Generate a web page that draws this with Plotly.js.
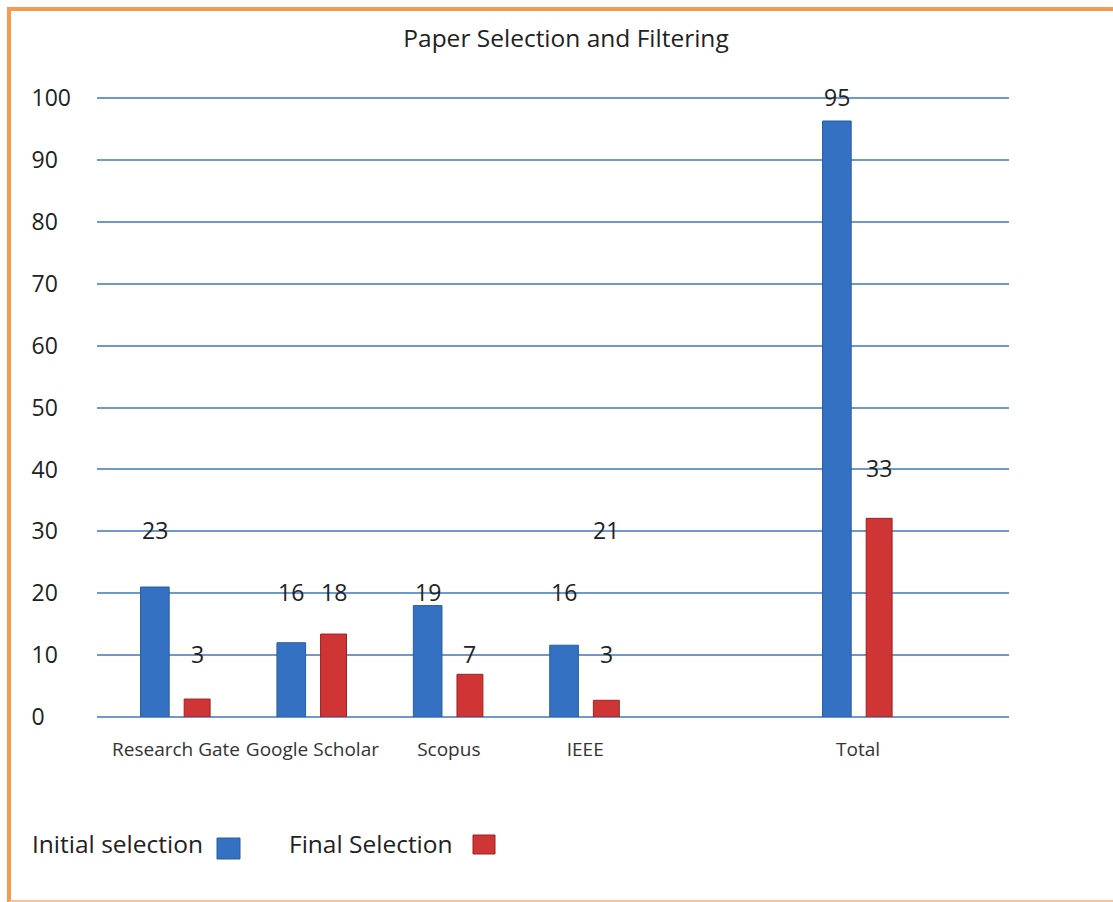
<!DOCTYPE html>
<html>
<head>
<meta charset="utf-8">
<script src="https://cdn.plot.ly/plotly-3.0.1.min.js"></script>
<style>
html,body{margin:0;padding:0;background:#ffffff;overflow:hidden;}
#wrap{position:relative;width:1113px;height:902px;overflow:hidden;}
#chart{width:1113px;height:902px;}
#frame{position:absolute;left:7px;top:7px;width:1200px;height:889px;
  border-top:4px solid #f59a4e;border-left:4px solid #f59a4e;border-bottom:3px solid #f8c39a;pointer-events:none;}
</style>
</head>
<body>
<div id="wrap">
<div id="chart"></div>
<div id="frame"></div>
</div>
<script>
// ---------- data ----------
const categories = ['Research Gate', 'Google Scholar', 'Scopus', 'IEEE', 'Total'];
const axisCategories = ['Research Gate', 'Google Scholar', 'Scopus', 'IEEE', ' ', 'Total'];
const seriesNames = ['Initial selection', 'Final Selection'];
const initialHeights = [21, 12, 18, 11.6, 96.3];
const finalHeights = [2.9, 13.4, 6.9, 2.7, 32.1];
const initialLabels = ['23', '16', '19', '16', '95'];
const finalLabels = ['3', '18', '7', '3', '33'];
const strayLabelCategory = 'IEEE';
const strayLabelText = '21';
const yTickValues = [0, 10, 20, 30, 40, 50, 60, 70, 80, 90, 100];

// ---------- geometry / style ----------
const FW = 1113, FH = 902;
const L = 97, R = 1009, T = 95, B = 717;
const PW = R - L, PH = B - T;
const px = x => (x - L) / PW;
const py = y => (B - y) / PH;
const unitPx = 136.4;
const firstCenterPx = 176;
const xr0 = -(firstCenterPx - L) / unitPx;
const xr1 = xr0 + PW / unitPx;

const BLUE = '#3571c2', BLUE_EDGE = '#2a5c9e';
const RED = '#cf3535', RED_EDGE = '#9c2222';
const GRID = '#6f98cb';
const FONT = '"Open Sans", "Noto Sans", sans-serif';
const TXT = '#222222';

const blueOffset = -0.26, blueWidth = 0.21;
const redOffset = 0.06, redWidth = 0.19;

const traces = [
  {
    type: 'bar', name: seriesNames[0], x: categories, y: initialHeights,
    offset: blueOffset, width: blueWidth,
    marker: {color: BLUE, line: {color: BLUE_EDGE, width: 1}},
    hoverinfo: 'skip'
  },
  {
    type: 'bar', name: seriesNames[1], x: categories, y: finalHeights,
    offset: redOffset, width: redWidth,
    marker: {color: RED, line: {color: RED_EDGE, width: 1}},
    hoverinfo: 'skip'
  }
];

const labelY = t => Math.ceil(Number(t) / 10) * 10;
const catIndex = c => axisCategories.indexOf(c);
const annotations = [];
const labelFont = {family: FONT, size: 23, color: TXT};
categories.forEach((c, i) => {
  annotations.push({x: catIndex(c) + blueOffset + blueWidth / 2, y: labelY(initialLabels[i]), xref: 'x', yref: 'y',
    text: initialLabels[i], showarrow: false, xanchor: 'center', yanchor: 'middle', yshift: 1, font: labelFont});
  annotations.push({x: catIndex(c) + redOffset + redWidth / 2, y: labelY(finalLabels[i]), xref: 'x', yref: 'y',
    text: finalLabels[i], showarrow: false, xanchor: 'center', yanchor: 'middle', yshift: 1, font: labelFont});
});
annotations.push({x: catIndex(strayLabelCategory) + redOffset + redWidth / 2, y: labelY(strayLabelText), xref: 'x', yref: 'y',
  text: strayLabelText, showarrow: false, xanchor: 'center', yanchor: 'middle', yshift: 1, font: labelFont});

// legend (text followed by swatch, as in the original)
const legendFont = {family: FONT, size: 24.5, color: TXT};
annotations.push({x: px(30), y: py(843), xref: 'paper', yref: 'paper', text: seriesNames[0], showarrow: false,
  xanchor: 'left', yanchor: 'middle', font: legendFont});
annotations.push({x: px(287), y: py(843), xref: 'paper', yref: 'paper', text: seriesNames[1], showarrow: false,
  xanchor: 'left', yanchor: 'middle', font: legendFont});

const shapes = [
  {type: 'rect', xref: 'paper', yref: 'paper', x0: px(217), x1: px(240), y0: py(859), y1: py(838),
    fillcolor: BLUE, line: {color: BLUE_EDGE, width: 1}},
  {type: 'rect', xref: 'paper', yref: 'paper', x0: px(473), x1: px(495), y0: py(854), y1: py(835),
    fillcolor: RED, line: {color: RED_EDGE, width: 1}}
];

const tickText = yTickValues.map(v => {
  const s = String(v);
  return s + '\u2007'.repeat(3 - s.length);
});

const layout = {
  width: FW, height: FH,
  margin: {l: L, r: FW - R, t: T, b: FH - B, pad: 0},
  paper_bgcolor: '#ffffff', plot_bgcolor: '#ffffff',
  font: {family: FONT, color: TXT},
  title: {text: 'Paper Selection and Filtering', font: {family: FONT, size: 24.5, color: TXT},
    xref: 'container', x: 566 / FW, xanchor: 'center', yref: 'container', y: 1 - 38 / FH, yanchor: 'middle'},
  showlegend: false,
  barmode: 'overlay',
  xaxis: {
    type: 'category', categoryorder: 'array', categoryarray: axisCategories,
    range: [xr0, xr1], showgrid: false, zeroline: false, showline: false, ticks: '',
    tickfont: {family: FONT, size: 19, color: '#333333'}, ticklabelstandoff: 19, fixedrange: true
  },
  yaxis: {
    range: [0, 100.5], tickvals: yTickValues, ticktext: tickText,
    showgrid: true, gridcolor: GRID, gridwidth: 2,
    zeroline: true, zerolinecolor: GRID, zerolinewidth: 2, showline: false, ticks: '',
    tickfont: {family: FONT, size: 23, color: TXT}, ticklabelstandoff: 25, fixedrange: true
  },
  annotations: annotations,
  shapes: shapes
};

Plotly.newPlot('chart', traces, layout, {displayModeBar: false, staticPlot: true});
</script>
</body>
</html>
